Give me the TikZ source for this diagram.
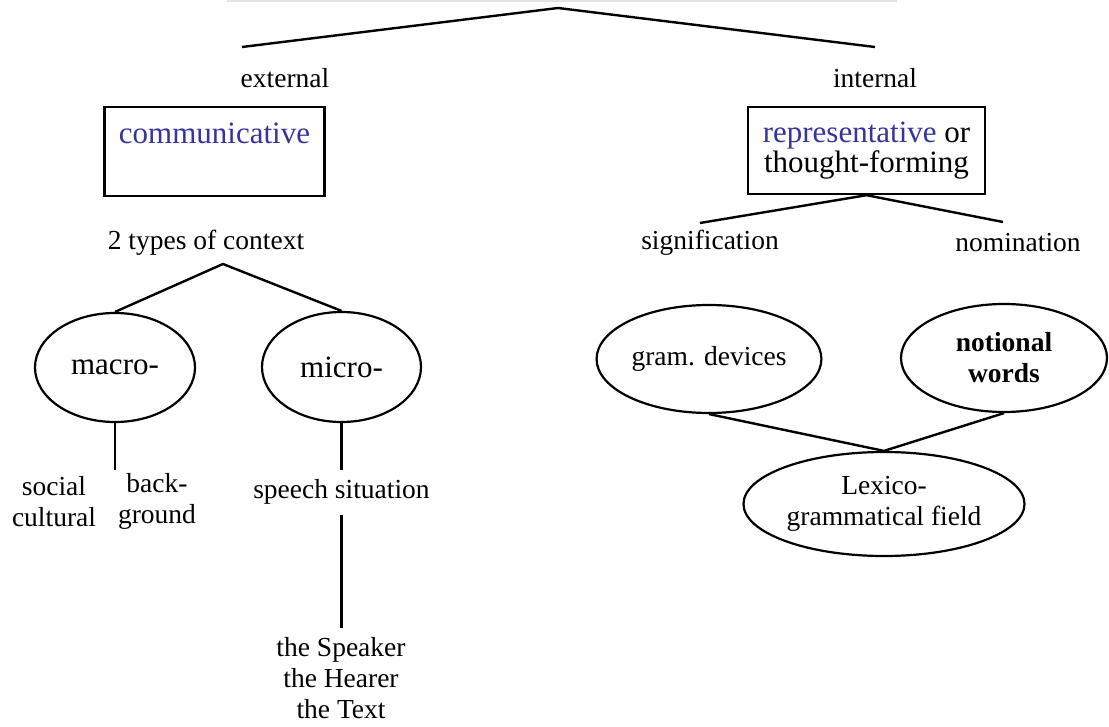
\documentclass[tikz,border=0pt]{standalone}
\usepackage{fontspec}
\setmainfont{Liberation Serif}
\usetikzlibrary{shapes.geometric}
\definecolor{funcblue}{RGB}{52,52,158}
\tikzset{
	txt/.style={inner sep=1pt, font=\fontsize{13.75}{15.5}\selectfont, align=center},
	bigtxt/.style={inner sep=1pt, font=\fontsize{15.5}{15}\selectfont, align=center},
	funcbox/.style={draw, line width=1.2pt, inner sep=0pt},
	oval/.style={ellipse, draw, line width=1.1pt, inner sep=0pt},
	branch/.style={line width=1.2pt}
}
\begin{document}
\begin{tikzpicture}[x=0.5pt, y=-0.5pt]
	\useasboundingbox (0,0) rectangle (1109,727);
	%title strip
	\fill[gray!22] (227,0) rectangle (897,2.5);
	%top fork
	\coordinate (top) at (558,8);
	\coordinate (extfork) at (242,47);
	\coordinate (intfork) at (875,47);
	\draw[branch] (extfork) -- (top) -- (intfork);
	\node[txt] (ext) at (285,78) {external};
	\node[txt] (int) at (875,78) {internal};
	%functions
	\node[funcbox, minimum width=110pt, minimum height=44.5pt] (comm) at (214.5,151.5) {};
	\node[bigtxt, text=funcblue] (commtxt) at (214.5,133) {communicative};
	\node[funcbox, bigtxt, inner sep=0pt, minimum width=118.5pt, minimum height=43.5pt] (rep) at (866.5,150.5)
	{\textcolor{funcblue}{representative} or\\thought-forming};
	%external side
	\node[txt] (ctx) at (206,243) {2 types of context};
	\coordinate (ctxfork) at (223,264);
	\node[oval, bigtxt, minimum width=80pt, minimum height=54.5pt] (macro) at (115,367.5) {macro-};
	\node[oval, bigtxt, minimum width=79.5pt, minimum height=55pt] (micro) at (341.5,367) {micro-};
	\draw[branch] (macro.north) -- (ctxfork) -- (micro.north);
	\coordinate (macrofoot) at (115,470);
	\draw[branch] (macro.south) -- (macrofoot);
	\node[txt] (social) at (54,501.5) {social\\cultural};
	\node[txt] (backgr) at (157,501.5) {back-\\ground};
	\coordinate (microfoot) at (341.5,470);
	\draw[branch] (micro.south) -- (microfoot);
	\node[txt] (speech) at (341.5,492) {speech situation};
	\coordinate (speechfoot) at (341.5,628);
	\draw[branch] (341.5,515) -- (speechfoot);
	\node[txt, font=\fontsize{13.75}{15.5}\selectfont] (parts) at (341,678) {the Speaker\\the Hearer\\the Text};
	%internal side
	\coordinate (sigtop) at (700,223);
	\coordinate (nomtop) at (1003,222);
	\draw[branch] (sigtop) -- (rep.south) -- (nomtop);
	\node[txt] (sig) at (710,243) {signification};
	\node[txt] (nom) at (1018,243) {nomination};
	\node[oval, txt, minimum width=105pt, minimum height=54pt] (gram) at (709,359) {gram. devices};
	\node[oval, txt, minimum width=103pt, minimum height=54pt] (notion) at (1004,358) {\textbf{notional}\\\textbf{words}};
	\node[oval, txt, minimum width=127pt, minimum height=52pt] (lex) at (884,504) {Lexico-\\grammatical field};
	\draw[branch] (gram.south) -- (lex.north) -- (notion.south);
\end{tikzpicture}
\end{document}
